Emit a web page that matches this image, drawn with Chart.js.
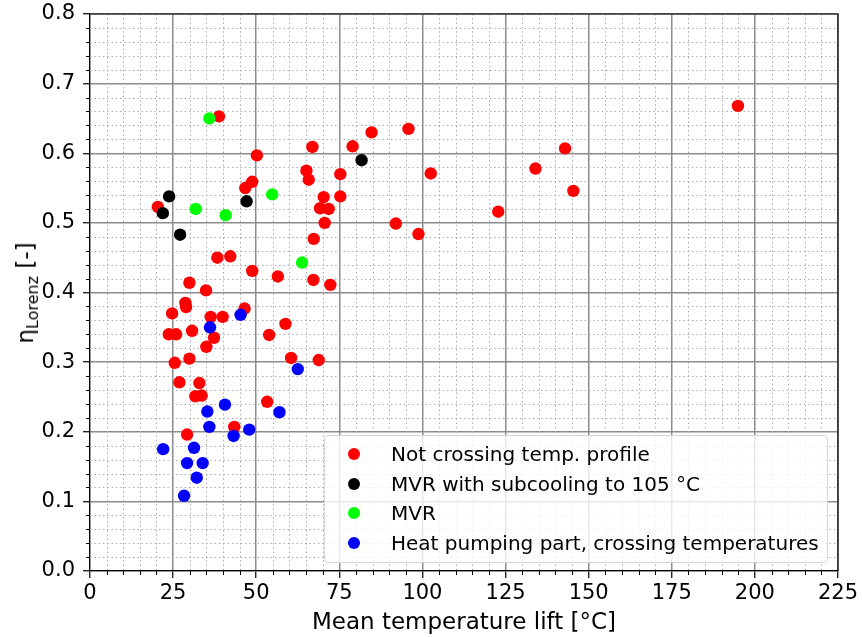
<!DOCTYPE html>
<html>
<head>
<meta charset="utf-8">
<script src="https://cdn.jsdelivr.net/npm/chart.js@4.4.1/dist/chart.umd.min.js"></script>
<style>
body { margin:0; background:#fff; font-family:"DejaVu Sans", sans-serif; }
#wrap { position:relative; width:862px; height:637px; }
#myChart { position:absolute; left:0; top:0; }
#legend { position:absolute; left:324px; top:435px; width:504px; height:128px; box-sizing:border-box;
  background:rgba(255,255,255,0.8); border:1px solid #d6d6d6; border-radius:4px; font-size:20px; color:#000; }
.row { position:absolute; left:0; height:30px; line-height:30px; white-space:nowrap; }
.dot { position:absolute; left:23px; top:9px; width:12px; height:12px; border-radius:50%; }
.lbl { position:absolute; left:66px; top:0; }
#ytitle { position:absolute; left:27px; top:293px; transform:translate(-50%,-50%) rotate(-90deg);
  white-space:nowrap; font-size:23px; color:#000; }
#ytitle sub { font-size:16px; vertical-align:-5px; }
</style>
</head>
<body>
<div id="wrap">
  <canvas id="myChart" width="862" height="637"></canvas>
  <div id="ytitle">η<sub>Lorenz</sub> [-]</div>
  <div id="legend"></div>
</div>
<script>
// values
notCrossX = [20.4,38.8,50.2,46.7,48.8,66.9,79.0,84.7,95.8,65.1,65.8,75.3,102.5,70.3,75.3,69.2,71.8,70.6,92.0,98.8,
  67.3,122.8,134.0,142.9,145.4,194.9,38.3,42.2,48.8,56.5,67.2,72.3,29.9,34.9,28.7,28.9,24.7,36.3,39.9,46.5,
  58.8,23.7,25.9,30.7,37.3,53.9,35.0,29.9,25.5,60.5,68.8,26.9,32.9,31.7,33.6,53.3,43.4,29.2]
notCrossY = [0.523,0.653,0.597,0.550,0.559,0.609,0.610,0.630,0.635,0.575,0.562,0.570,0.571,0.537,0.538,0.521,0.520,0.500,0.499,0.484,
  0.477,0.516,0.578,0.607,0.546,0.668,0.450,0.452,0.431,0.423,0.418,0.411,0.414,0.403,0.385,0.379,0.370,0.365,0.365,0.377,
  0.355,0.340,0.340,0.345,0.335,0.339,0.322,0.305,0.299,0.306,0.303,0.271,0.270,0.251,0.252,0.243,0.207,0.196]

mvrSubX = [23.8,47.1,21.9,27.1,81.7]
mvrSubY = [0.538,0.531,0.514,0.483,0.590]

mvrX = [35.9,54.8,31.8,40.8,63.8]
mvrY = [0.650,0.541,0.520,0.511,0.443]

hpX = [45.3,36.1,62.5,40.6,35.3,57.0,35.9,47.9,43.2,22.0,31.3,29.2,33.9,32.1,28.3]
hpY = [0.368,0.350,0.290,0.239,0.229,0.228,0.207,0.203,0.194,0.175,0.177,0.155,0.155,0.134,0.108]

seriesLabels = ["Not crossing temp. profile","MVR with subcooling to 105 °C","MVR","Heat pumping part, crossing temperatures"]
seriesColors = ["#ff0000","#000000","#00ff00","#0000ff"]

xTicks = [0,25,50,75,100,125,150,175,200,225]
yTicks = [0.0,0.1,0.2,0.3,0.4,0.5,0.6,0.7,0.8]

function toPoints(xs, ys) {
    return xs.map((x, i) => ({x: x, y: ys[i]}))
}

const minorGrid = {
    id: 'minorGrid',
    beforeDatasetsDraw(chart) {
        const ctx = chart.ctx
        const a = chart.chartArea
        const xs = chart.scales.x, ys = chart.scales.y
        ctx.save()
        ctx.strokeStyle = '#ababab'
        ctx.lineWidth = 1
        ctx.setLineDash([1.5, 2.8])
        for (let v = 5; v < 225; v += 5) {
            if (v % 25 === 0) continue
            const px = Math.round(xs.getPixelForValue(v)) + 0.5
            ctx.beginPath(); ctx.moveTo(px, a.top); ctx.lineTo(px, a.bottom); ctx.stroke()
        }
        for (let i = 1; i < 40; i++) {
            if (i % 5 === 0) continue
            const py = Math.round(ys.getPixelForValue(i * 0.02)) + 0.5
            ctx.beginPath(); ctx.moveTo(a.left, py); ctx.lineTo(a.right, py); ctx.stroke()
        }
        // minor tick marks
        ctx.setLineDash([])
        ctx.strokeStyle = '#000'
        for (let v = 5; v < 225; v += 5) {
            if (v % 25 === 0) continue
            const px = Math.round(xs.getPixelForValue(v)) + 0.5
            ctx.beginPath(); ctx.moveTo(px, a.bottom); ctx.lineTo(px, a.bottom + 4); ctx.stroke()
        }
        for (let i = 1; i < 40; i++) {
            if (i % 5 === 0) continue
            const py = Math.round(ys.getPixelForValue(i * 0.02)) + 0.5
            ctx.beginPath(); ctx.moveTo(a.left - 4, py); ctx.lineTo(a.left, py); ctx.stroke()
        }
        ctx.restore()
    },
    afterDraw(chart) {
        const ctx = chart.ctx
        const a = chart.chartArea
        ctx.save()
        ctx.strokeStyle = '#000'
        ctx.lineWidth = 1.2
        ctx.beginPath()
        ctx.moveTo(a.left, a.top); ctx.lineTo(a.right, a.top); ctx.lineTo(a.right, a.bottom)
        ctx.stroke()
        ctx.restore()
    }
}

const font = 'DejaVu Sans'
const orders = [4, 3, 2, 1]   // red drawn first, blue on top
const datasets = [[notCrossX, notCrossY], [mvrSubX, mvrSubY], [mvrX, mvrY], [hpX, hpY]].map((s, i) => ({
    label: seriesLabels[i],
    data: toPoints(s[0], s[1]),
    backgroundColor: seriesColors[i],
    borderWidth: 0,
    pointRadius: 6.2,
    pointHoverRadius: 6.2,
    order: orders[i]
}))

const myChart = new Chart(document.getElementById('myChart'), {
    type: 'scatter',
    data: { datasets: datasets },
    options: {
        responsive: false,
        animation: false,
        devicePixelRatio: 1,
        layout: { padding: { top: 14, right: 24, bottom: 0, left: 0 } },
        plugins: { legend: { display: false }, tooltip: { enabled: false } },
        scales: {
            x: {
                type: 'linear', min: 0, max: 225,
                afterBuildTicks: s => { s.ticks = xTicks.map(v => ({ value: v })) },
                afterFit: s => { s.height = 66; s.paddingLeft = 0; s.paddingRight = 0 },
                grid: { color: '#8c8c8c', lineWidth: 1.5, tickColor: '#000', tickLength: 7, tickWidth: 1.2 },
                border: { color: '#000', width: 1.2 },
                ticks: { color: '#000', font: { family: font, size: 21 }, padding: 3, maxRotation: 0, autoSkip: false },
                title: { display: true, text: 'Mean temperature lift [°C]', color: '#000',
                         font: { family: font, size: 23 }, padding: { top: 0, bottom: 0 } }
            },
            y: {
                type: 'linear', min: 0, max: 0.8,
                afterBuildTicks: s => { s.ticks = yTicks.map(v => ({ value: v })) },
                afterFit: s => { s.width = 90; s.paddingTop = 0; s.paddingBottom = 0 },
                grid: { color: '#8c8c8c', lineWidth: 1.5, tickColor: '#000', tickLength: 7, tickWidth: 1.2 },
                border: { color: '#000', width: 1.2 },
                ticks: { color: '#000', font: { family: font, size: 21 }, padding: 8, autoSkip: false,
                         callback: v => Number(v).toFixed(1) }
            }
        }
    },
    plugins: [minorGrid]
})

// legend box inside the plot, built from the datasets
legend = document.getElementById('legend')
myChart.data.datasets.forEach((ds, i) => {
    row = document.createElement('div')
    row.setAttribute('class', 'row')
    row.style.top = (3 + i * 29.7) + 'px'
    row.style.width = '100%'
    dot = document.createElement('span')
    dot.setAttribute('class', 'dot')
    dot.style.background = ds.backgroundColor
    lbl = document.createElement('span')
    lbl.setAttribute('class', 'lbl')
    lbl.textContent = ds.label
    row.appendChild(dot)
    row.appendChild(lbl)
    legend.appendChild(row)
})
</script>
</body>
</html>
